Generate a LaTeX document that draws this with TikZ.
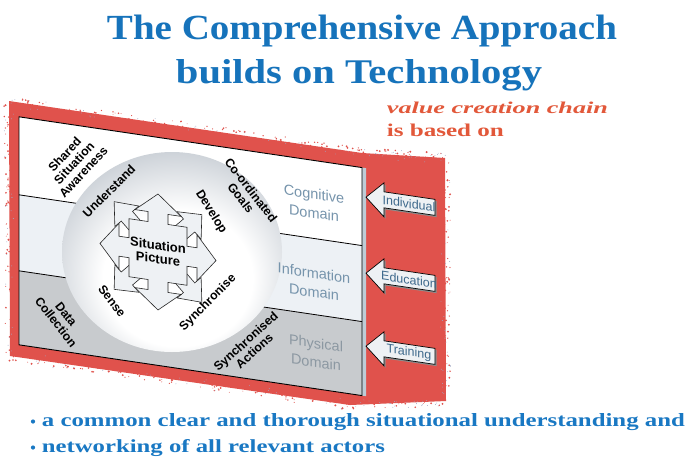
\documentclass[tikz,border=0pt]{standalone}
\usepackage{graphicx}
\usepackage{fontspec}
\setmainfont{Liberation Serif}
\setsansfont{Liberation Sans}
\usetikzlibrary{calc}
\definecolor{redbg}{RGB}{224,82,76}
\definecolor{titleblue}{RGB}{22,115,187}
\definecolor{textblue}{RGB}{25,120,195}
\definecolor{valred}{RGB}{226,88,58}
\definecolor{midband}{RGB}{237,241,245}
\definecolor{lowband}{RGB}{200,203,206}
\definecolor{circgray}{RGB}{198,204,211}
\definecolor{domblue}{RGB}{118,148,172}
\definecolor{physgray}{RGB}{140,152,162}
\definecolor{arrtext}{RGB}{62,105,140}
\definecolor{crossfill}{RGB}{238,241,244}
\definecolor{speckblue}{RGB}{120,130,170}
\definecolor{sidestrip}{RGB}{190,204,214}
\pgfdeclareradialshading{circsh}{\pgfpoint{2bp}{-10bp}}{color(0bp)=(white); color(17bp)=(white); color(31bp)=(circgray); color(50bp)=(circgray)}
\newcommand\xcrosspath[5]{(0,-#5) -- (#4,-#3) -- (#2,-#3) -- (#2,-#1) -- (#1,-#1) -- (#1,-#2) -- (#3,-#2) -- (#3,-#4) -- (#5,0) -- (#3,#4) -- (#3,#2) -- (#1,#2) -- (#1,#1) -- (#2,#1) -- (#2,#3) -- (#4,#3) -- (0,#5) -- (-#4,#3) -- (-#2,#3) -- (-#2,#1) -- (-#1,#1) -- (-#1,#2) -- (-#3,#2) -- (-#3,#4) -- (-#5,0) -- (-#3,-#4) -- (-#3,-#2) -- (-#1,-#2) -- (-#1,-#1) -- (-#2,-#1) -- (-#2,-#3) -- (-#4,-#3) -- cycle}
\newcommand\sidearrowpath[1]{(366,#1) -- (384,{#1-17}) -- (384,{#1-8}) -- (435,{#1-8}) -- (435,{#1+8}) -- (384,{#1+8}) -- (384,{#1+17}) -- cycle}
\newcommand\prect[4]{(#1,#2) -- (#3,#2) -- (#3,#4) -- (#1,#4) -- cycle}
\tikzset{
  lbl/.style={font=\sffamily\bfseries\fontsize{12.3}{12.8}\selectfont, align=center, inner sep=0pt, text=black},
  dom/.style={font=\sffamily\fontsize{14.5}{19}\selectfont, align=center, inner sep=0pt, text=domblue, transform shape},
  arrtxt/.style={font=\sffamily\fontsize{12.5}{13}\selectfont, inner sep=0pt, text=arrtext, transform shape},
  sidearrow/.style={fill=crossfill, draw=black, line width=0.7pt, line join=miter},
  crossst/.style={fill=crossfill, draw=black!85, line width=0.6pt, line join=miter},
  edge/.style={draw=black, line width=0.9pt}
}
\begin{document}
\begin{tikzpicture}[x=1pt,y=-1pt]
\useasboundingbox (0,0) rectangle (698,467);
\fill[white] (0,0) rectangle (698,467);

% red background
\fill[redbg] (9,101) -- (362,153) -- (445,158) -- (446,401) -- (350,405) -- (10,356) -- cycle;
\pgfmathsetseed{4242}
\foreach \ax/\ay/\bx/\by/\n in {9/101/362/153/130, 362/153/445/158/35, 445/158/446/401/100, 446/401/350/405/35, 350/405/10/356/130, 10/356/9/101/90}{
  \foreach \k in {1,...,\n}{
    \pgfmathsetmacro\spt{rnd}
    \pgfmathsetmacro\spx{10*rnd-5}
    \pgfmathsetmacro\spy{10*rnd-5}
    \pgfmathsetmacro\spr{0.4+0.7*rnd}
    \fill[redbg] ($(\ax,\ay)!\spt!(\bx,\by)+(\spx,\spy)$) circle (\spr pt);
  }
  \foreach \k in {1,...,25}{
    \pgfmathsetmacro\spt{rnd}
    \pgfmathsetmacro\spx{10*rnd-5}
    \pgfmathsetmacro\spy{10*rnd-5}
    \fill[speckblue!70] ($(\ax,\ay)!\spt!(\bx,\by)+(\spx,\spy)$) circle (0.45pt);
  }
}

% panel (slanted)
\begin{scope}[yslant=-0.148]
  \fill[white] \prect{19}{114}{362}{192};
  \fill[midband] \prect{19}{192}{362}{268};
  \fill[lowband] \prect{19}{268}{362}{342};
  \fill[sidestrip] \prect{362}{114}{366}{342};
  \draw[edge] \prect{19}{114}{362}{342};
  \draw[black, line width=0.8pt] (19,192) -- (362,192);
  \draw[black, line width=0.8pt] (19,268) -- (362,268);
  \foreach \c/\w/\nm in {143/Individual/ind, 219/Education/edu, 292/Training/tra}{
    \fill[black!45, shift={(1.5,1.5)}] \sidearrowpath{\c};
    \filldraw[sidearrow] \sidearrowpath{\c};
    \node[arrtxt] (\nm) at (409,\c) {\w};
  }
\end{scope}

% circle
\shade[shading=circsh] (172,252) ellipse [x radius=110, y radius=100];

% domain labels (drawn over the circle)
\begin{scope}[yslant=-0.148]
  \node[dom] (cogd) at (314,157) {Cognitive\\Domain};
  \node[dom] (infd) at (314,236) {Information\\Domain};
  \node[dom, text=physgray] (phyd) at (316,306) {Physical\\Domain};
\end{scope}

% cross of arrows
\begin{scope}[yslant=-0.148, shift={(158,228.6)}]
  \begin{scope}[rotate=45]
    \filldraw[crossst] \xcrosspath{20}{8}{44}{17}{62};
  \end{scope}
  \filldraw[crossst] \xcrosspath{29}{10}{39}{23}{58};
  \node[lbl, transform shape, font=\sffamily\bfseries\fontsize{13}{13.5}\selectfont] (sp) at (0,0) {Situation\\Picture};
\end{scope}

% rotated labels
\node[lbl, rotate=47] (ssa) at (74,163) {Shared\\Situation\\Awareness};
\node[lbl, rotate=-52] (cgoal) at (246,194) {Co-ordinated\\Goals};
\node[lbl, rotate=45] (und) at (109,191) {Understand};
\node[lbl, rotate=-58] (dev) at (211,212) {Develop};
\node[lbl, rotate=-52] (sen) at (112,301) {Sense};
\node[lbl, rotate=45] (syn) at (208,303) {Synchronise};
\node[lbl, rotate=-52] (dc) at (61,318) {Data\\Collection};
\node[lbl, rotate=42] (sact) at (250,346) {Synchronised\\Actions};

% title
\node[anchor=base, text=titleblue, inner sep=0pt] (t1) at (362,39.5) {\resizebox{510pt}{24.5pt}{\bfseries The Comprehensive Approach}};
\node[anchor=base, text=titleblue, inner sep=0pt] (t2) at (359,83.3) {\resizebox{366pt}{24pt}{\bfseries builds on Technology}};

% value creation chain
\node[anchor=base west, text=valred, inner sep=0pt] (v1) at (386.7,113) {\resizebox{221pt}{11.5pt}{\bfseries\itshape value creation chain}};
\node[anchor=base west, text=valred, inner sep=0pt] (v2) at (386.7,136.7) {\resizebox{117pt}{12.5pt}{\bfseries is based on}};

% bottom bullets
\fill[textblue] (33,421.5) circle (2.1pt);
\fill[textblue] (33,447.5) circle (2.1pt);
\node[anchor=base west, text=textblue, inner sep=0pt] (b1) at (41.7,426.7) {\resizebox{643pt}{13pt}{\bfseries a common clear and thorough situational understanding and}};
\node[anchor=base west, text=textblue, inner sep=0pt] (b2) at (41.7,452.7) {\resizebox{343pt}{13pt}{\bfseries networking of all relevant actors}};
\end{tikzpicture}
\end{document}
